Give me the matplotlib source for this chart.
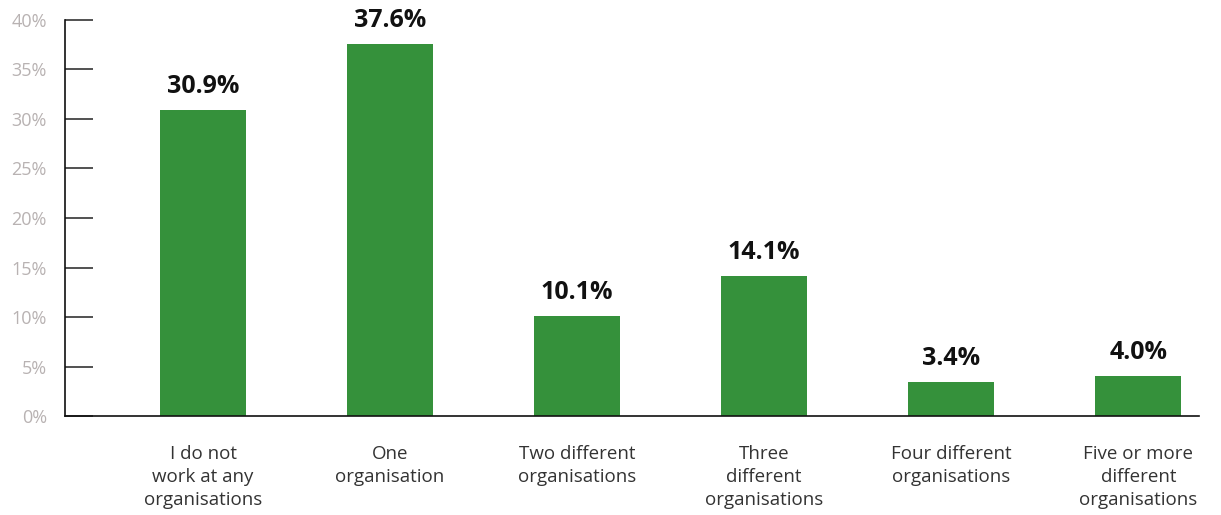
import matplotlib.pyplot as plt

categories = [
    "I do not\nwork at any\norganisations",
    "One\norganisation",
    "Two different\norganisations",
    "Three\ndifferent\norganisations",
    "Four different\norganisations",
    "Five or more\ndifferent\norganisations",
]
values = [30.9, 37.6, 10.1, 14.1, 3.4, 4.0]
yticks = [0, 5, 10, 15, 20, 25, 30, 35, 40]

plt.rcParams['font.family'] = ['Open Sans', 'DejaVu Sans']

fig = plt.figure(figsize=(12.21, 5.15), dpi=100)
ax = fig.add_axes([0.0532, 0.1922, 0.9290, 0.7690])

x = list(range(len(values)))
ax.bar(x, values, width=0.46, color='#35913b')

# value labels on top of the bars
for xi, v in zip(x, values):
    ax.annotate(f"{v:.1f}%", (xi, v), xytext=(0, 8), textcoords='offset points',
                ha='center', va='bottom', fontsize=18, fontweight='bold', color='#111111')

ax.set_xlim(-0.738, 5.326)
ax.set_ylim(0, 40)
ax.set_yticks(yticks)
ax.set_yticklabels([f"{t}%" for t in yticks])
ax.set_xticks(x)
ax.set_xticklabels(categories, linespacing=1.35)

ax.tick_params(axis='y', direction='in', length=20, width=1.2, color='#333333',
               labelcolor='#b8b2b2', labelsize=13, pad=13)
ax.tick_params(axis='x', length=0, labelcolor='#333333', labelsize=13.5, pad=21)

for s in ['top', 'right']:
    ax.spines[s].set_visible(False)
for s in ['left', 'bottom']:
    ax.spines[s].set_color('#111111')
    ax.spines[s].set_linewidth(1.2)

fig.savefig('out.png', dpi=100)
